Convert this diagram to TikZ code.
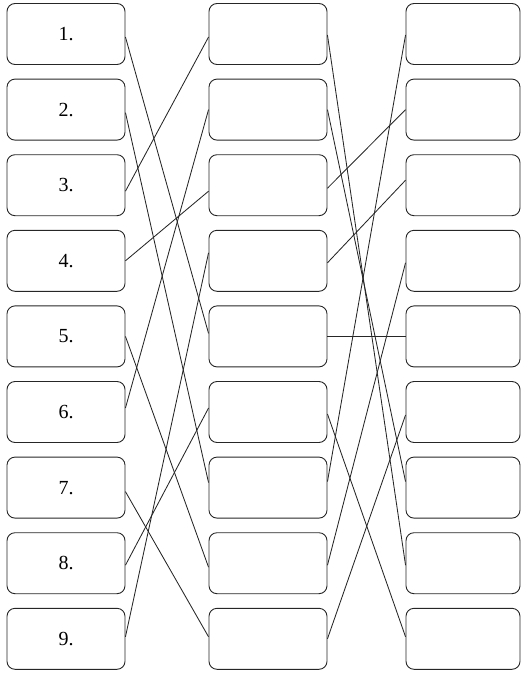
\documentclass[tikz,border=0pt]{standalone}
\usepackage{fontspec}
\setmainfont{Liberation Serif}
\begin{document}
\begin{tikzpicture}[x=1pt,y=-1pt,
  cell/.style={draw=black!85,line width=0.9pt,rounded corners=8pt,
    minimum width=118pt,minimum height=61pt,inner sep=0pt,
    font=\fontsize{20}{24}\selectfont},
  link/.style={draw=black!85,line width=0.85pt}]
\useasboundingbox (0,0) rectangle (521,673);
\foreach \k in {1,...,9}{
  \pgfmathsetmacro\yy{34+75.6*(\k-1)}
  \node[cell] (L\k) at (66,\yy) {\k.};
  \node[cell] (M\k) at (268,\yy) {};
  \node[cell,minimum width=114pt] (R\k) at (463,\yy) {};
}
% left -> middle  (src, src offset, dst, dst offset)
\foreach \a/\da/\b/\db in {1/3/5/-3, 2/3/7/-5, 3/6/1/3, 4/0/3/6, 5/0/8/4,
                           6/-4/2/0, 7/4/9/-2, 8/2/6/-4, 9/-2/4/-8}{
  \draw[link] ([yshift=-\da pt]L\a.east) -- ([yshift=-\db pt]M\b.west);
}
% middle -> right
\foreach \a/\da/\b/\db in {1/1/8/2, 2/0/7/-6, 3/3/2/0, 4/2/3/-5, 5/0/5/0,
                           6/2/9/-2, 7/-6/1/1, 8/2/4/2, 9/0/6/3}{
  \draw[link] ([yshift=-\da pt]M\a.east) -- ([yshift=-\db pt]R\b.west);
}
\end{tikzpicture}
\end{document}
